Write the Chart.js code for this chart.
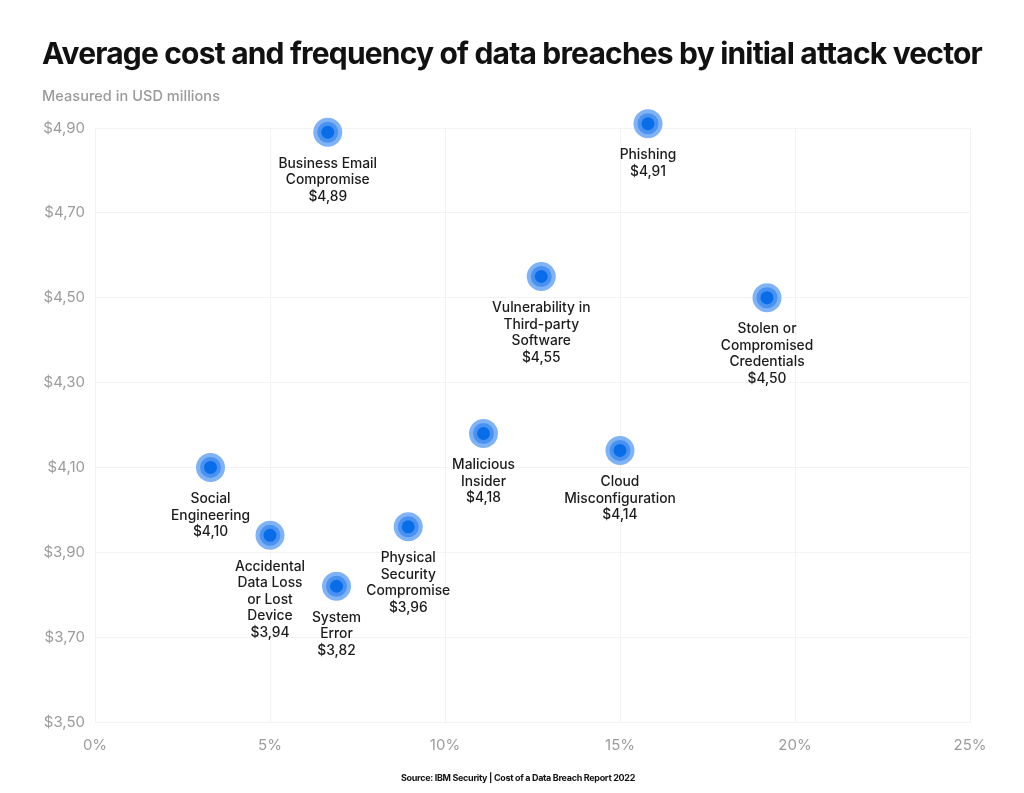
<!DOCTYPE html>
<html>

<head>
  <title>Average cost and frequency of data breaches by initial attack vector</title>
  <script src="https://cdn.jsdelivr.net/npm/chart.js"></script>
  <style>
    html, body { margin: 0; padding: 0; background: #fff; }
    #wrap { width: 1024px; height: 793px; }
  </style>
</head>

<body>
  <div id="wrap"><canvas id="breachChart"></canvas></div>
  <script>
    // attack vectors, label lines as printed under each dot
    const vectors = [
      ['Business Email', 'Compromise'],
      ['Phishing'],
      ['Vulnerability in', 'Third-party', 'Software'],
      ['Stolen or', 'Compromised', 'Credentials'],
      ['Malicious', 'Insider'],
      ['Cloud', 'Misconfiguration'],
      ['Social', 'Engineering'],
      ['Accidental', 'Data Loss', 'or Lost', 'Device'],
      ['System', 'Error'],
      ['Physical', 'Security', 'Compromise']
    ];
    // share of breaches (%)
    const frequency = [6.65, 15.8, 12.75, 19.2, 11.1, 15.0, 3.3, 5.0, 6.9, 8.95];
    // average cost (USD millions)
    const avgCost = [4.89, 4.91, 4.55, 4.50, 4.18, 4.14, 4.10, 3.94, 3.82, 3.96];

    const xTicks = [0, 5, 10, 15, 20, 25];
    const xTickLabels = ['0%', '5%', '10%', '15%', '20%', '25%'];
    const yTicks = [3.5, 3.7, 3.9, 4.1, 4.3, 4.5, 4.7, 4.9];
    const yTickLabels = ['$3,50', '$3,70', '$3,90', '$4,10', '$4,30', '$4,50', '$4,70', '$4,90'];

    const titleText = 'Average cost and frequency of data breaches by initial attack vector';
    const subtitleText = 'Measured in USD millions';
    const sourceText = 'Source: IBM Security | Cost of a Data Breach Report 2022';

    const points = frequency.map((f, i) => ({ x: f, y: avgCost[i] }));
    const money = v => '$' + v.toFixed(2).replace('.', ',');

    // squeeze text into a given width with letter spacing
    function fitText(ctx, text, x, y, width) {
      ctx.letterSpacing = '0px';
      const w = ctx.measureText(text).width;
      ctx.letterSpacing = ((width - w) / text.length) + 'px';
      ctx.fillText(text, x, y);
      ctx.letterSpacing = '0px';
    }

    const textPlugin = {
      id: 'texts',
      afterDraw(chart) {
        const ctx = chart.ctx;
        ctx.save();
        ctx.textBaseline = 'middle';
        ctx.textAlign = 'left';

        ctx.fillStyle = '#111';
        ctx.font = 'bold 30px Inter';
        fitText(ctx, titleText, 42, 55, 940);

        ctx.fillStyle = '#9a9a9a';
        ctx.font = '500 14.5px Inter';
        fitText(ctx, subtitleText, 42, 97, 178);

        ctx.fillStyle = '#111';
        ctx.font = 'bold 9px Inter';
        fitText(ctx, sourceText, 401, 778, 234);

        // labels under each dot
        const meta = chart.getDatasetMeta(0);
        ctx.fillStyle = '#1b1b1b';
        ctx.font = '500 13.8px Inter';
        ctx.textAlign = 'center';
        meta.data.forEach((pt, i) => {
          const lines = vectors[i].concat([money(avgCost[i])]);
          lines.forEach((line, k) => {
            ctx.fillText(line, pt.x, pt.y + 31.5 + k * 16.5);
          });
        });
        ctx.restore();
      }
    };

    const ctx = document.getElementById('breachChart').getContext('2d');
    const chart = new Chart(ctx, {
      type: 'scatter',
      data: {
        datasets: [{
          data: points,
          backgroundColor: '#0a6de8',
          pointRadius: 6.5,
          borderWidth: 0,
          clip: false
        }, {
          data: points,
          backgroundColor: '#4a92f1',
          pointRadius: 10.5,
          borderWidth: 0,
          clip: false
        }, {
          data: points,
          backgroundColor: '#80b3f5',
          pointRadius: 14.5,
          borderWidth: 0,
          clip: false
        }]
      },
      options: {
        animation: false,
        responsive: true,
        maintainAspectRatio: false,
        events: [],
        layout: {
          padding: { top: 128, left: 42, right: 54, bottom: 31 }
        },
        plugins: {
          legend: { display: false },
          tooltip: { enabled: false }
        },
        scales: {
          x: {
            type: 'linear',
            min: 0,
            max: 25,
            afterBuildTicks: s => { s.ticks = xTicks.map(v => ({ value: v })); },
            afterFit: s => { s.height = 40; },
            grid: { color: '#f3f3f3', drawTicks: false },
            border: { color: '#f3f3f3' },
            ticks: {
              padding: 14,
              color: '#9b9b9b',
              font: { family: 'Inter', size: 15 },
              callback: (v, i) => xTickLabels[i]
            }
          },
          y: {
            min: 3.5,
            max: 4.9,
            afterBuildTicks: s => { s.ticks = yTicks.map(v => ({ value: v })); },
            afterFit: s => { s.width = 53; },
            grid: { color: '#f3f3f3', drawTicks: false },
            border: { color: '#f3f3f3' },
            ticks: {
              padding: 10,
              color: '#9b9b9b',
              font: { family: 'Inter', size: 15 },
              callback: (v, i) => yTickLabels[i]
            }
          }
        }
      },
      plugins: [textPlugin]
    });
  </script>
</body>

</html>
